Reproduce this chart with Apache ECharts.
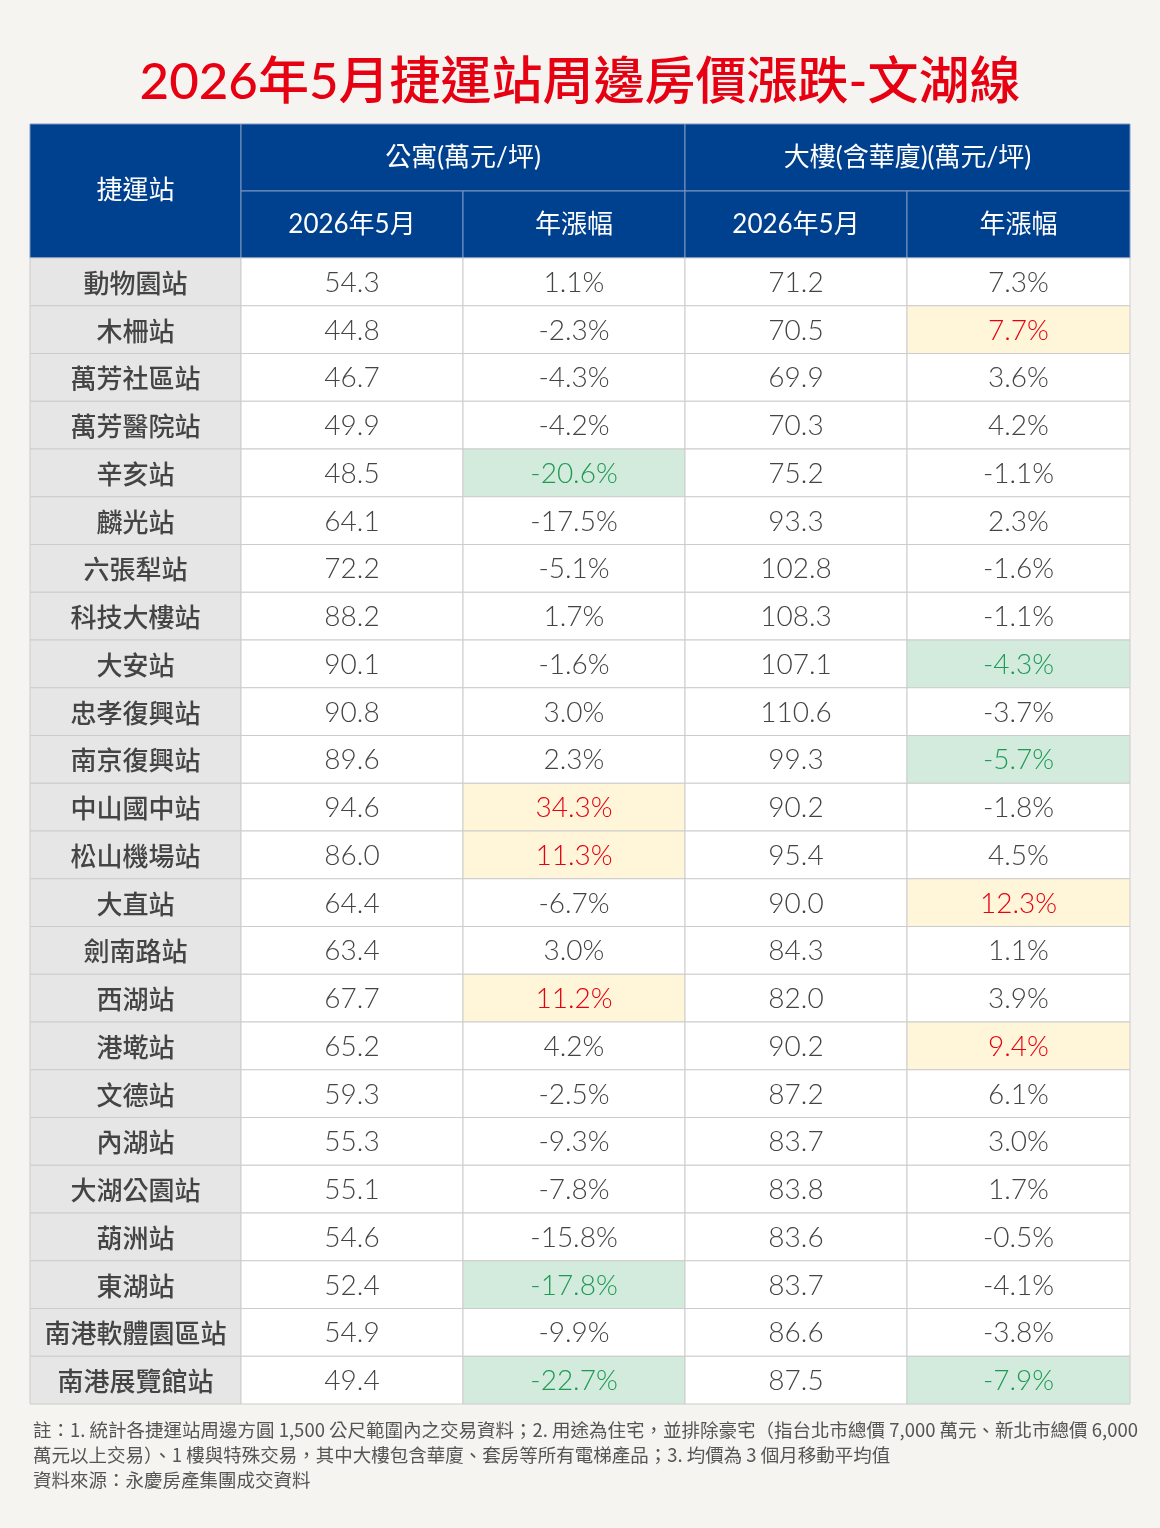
<!DOCTYPE html>
<html>
<head>
<meta charset="utf-8">
<title>2026年5月捷運站周邊房價漲跌-文湖線</title>
<script src="https://cdn.jsdelivr.net/npm/echarts@6/dist/echarts.min.js"></script>
<style>
  html, body { margin: 0; padding: 0; background: #f5f4f0; }
  #chart { width: 1160px; height: 1528px; }
</style>
</head>
<body>
<div id="chart"></div>
<script>
// 站名
var stations = ['動物園站', '木柵站', '萬芳社區站', '萬芳醫院站', '辛亥站', '麟光站', '六張犁站', '科技大樓站',
    '大安站', '忠孝復興站', '南京復興站', '中山國中站', '松山機場站', '大直站', '劍南路站', '西湖站',
    '港墘站', '文德站', '內湖站', '大湖公園站', '葫洲站', '東湖站', '南港軟體園區站', '南港展覽館站'];
// 公寓 單價(萬元/坪) / 年漲幅(%)
var aptPrice = [54.3, 44.8, 46.7, 49.9, 48.5, 64.1, 72.2, 88.2, 90.1, 90.8, 89.6, 94.6,
    86.0, 64.4, 63.4, 67.7, 65.2, 59.3, 55.3, 55.1, 54.6, 52.4, 54.9, 49.4];
var aptYoY = [1.1, -2.3, -4.3, -4.2, -20.6, -17.5, -5.1, 1.7, -1.6, 3.0, 2.3, 34.3,
    11.3, -6.7, 3.0, 11.2, 4.2, -2.5, -9.3, -7.8, -15.8, -17.8, -9.9, -22.7];
// 大樓(含華廈) 單價(萬元/坪) / 年漲幅(%)
var bldPrice = [71.2, 70.5, 69.9, 70.3, 75.2, 93.3, 102.8, 108.3, 107.1, 110.6, 99.3, 90.2,
    95.4, 90.0, 84.3, 82.0, 90.2, 87.2, 83.7, 83.8, 83.6, 83.7, 86.6, 87.5];
var bldYoY = [7.3, 7.7, 3.6, 4.2, -1.1, 2.3, -1.6, -1.1, -4.3, -3.7, -5.7, -1.8,
    4.5, 12.3, 1.1, 3.9, 9.4, 6.1, 3.0, 1.7, -0.5, -4.1, -3.8, -7.9];
// 表頭
var headTitle = '捷運站';
var groupLabels = ['公寓(萬元/坪)', '大樓(含華廈)(萬元/坪)'];
var subLabels = ['2026年5月', '年漲幅'];

var chartTitle = '2026年5月捷運站周邊房價漲跌-文湖線';
var notes = [
    '註：1. 統計各捷運站周邊方圓 1,500 公尺範圍內之交易資料；2. 用途為住宅，並排除豪宅（指台北市總價 7,000 萬元、新北市總價 6,000',
    '萬元以上交易）、1 樓與特殊交易，其中大樓包含華廈、套房等所有電梯產品；3. 均價為 3 個月移動平均值',
    '資料來源：永慶房產集團成交資料'
];

// 版面
var colWidths = [211, 222, 222, 222, 223];
var colEdges = [0];
for (var k = 0; k < colWidths.length; k++) {
    colEdges.push(colEdges[k] + colWidths[k]);
}
var tableW = colEdges[colEdges.length - 1];
var BLUE = '#00418f';
var NUM_FONT = 'Lato, "Noto Sans CJK TC", sans-serif';
var CJK_FONT = '"Noto Sans CJK TC", sans-serif';

// 前三高 / 前三低 標色
function rankTone(arr) {
    var sorted = arr.slice().sort(function(a, b) { return b - a; });
    var hi = sorted[2], lo = sorted[sorted.length - 3];
    return arr.map(function(v) {
        if (v >= hi) return 1;
        if (v <= lo) return 2;
        return 0;
    });
}
var aptTone = rankTone(aptYoY);
var bldTone = rankTone(bldYoY);

// 表頭儲存格 [起欄, 迄欄, 起列, 迄列]
var headCells = [
    { c0: 0, c1: 0, r0: 0, r1: 2, text: headTitle },
    { c0: 1, c1: 2, r0: 0, r1: 1, text: groupLabels[0] },
    { c0: 3, c1: 4, r0: 0, r1: 1, text: groupLabels[1] },
    { c0: 1, c1: 1, r0: 1, r1: 2, text: subLabels[0] },
    { c0: 2, c1: 2, r0: 1, r1: 2, text: subLabels[1] },
    { c0: 3, c1: 3, r0: 1, r1: 2, text: subLabels[0] },
    { c0: 4, c1: 4, r0: 1, r1: 2, text: subLabels[1] }
];

// 表身儲存格
var cells = [];
for (var i = 0; i < stations.length; i++) {
    cells.push({ c: 0, r: i, text: stations[i], tone: -1 });
    cells.push({ c: 1, r: i, text: aptPrice[i].toFixed(1), tone: 0 });
    cells.push({ c: 2, r: i, text: aptYoY[i].toFixed(1) + '%', tone: aptTone[i] });
    cells.push({ c: 3, r: i, text: bldPrice[i].toFixed(1), tone: 0 });
    cells.push({ c: 4, r: i, text: bldYoY[i].toFixed(1) + '%', tone: bldTone[i] });
}

function renderHead(params, api) {
    var d = headCells[params.dataIndex];
    var p0 = api.coord([colEdges[d.c0], d.r0]);
    var p1 = api.coord([colEdges[d.c1 + 1], d.r1]);
    return {
        type: 'group',
        children: [{
            type: 'rect',
            shape: { x: p0[0], y: p0[1], width: p1[0] - p0[0], height: p1[1] - p0[1] },
            style: { fill: BLUE, stroke: '#7f97c0', lineWidth: 1 }
        }, {
            type: 'text',
            style: {
                text: d.text,
                x: (p0[0] + p1[0]) / 2,
                y: (p0[1] + p1[1]) / 2,
                textAlign: 'center',
                textVerticalAlign: 'middle',
                fill: '#ffffff',
                font: '26px ' + NUM_FONT
            }
        }]
    };
}

function renderBody(params, api) {
    var d = cells[params.dataIndex];
    var left = api.coord([colEdges[d.c], d.r]);
    var right = api.coord([colEdges[d.c + 1], d.r]);
    var h = api.size([0, 1])[1];
    var fill = '#ffffff', color = '#444444', font = '300 28px ' + NUM_FONT;
    if (d.tone === -1) {
        fill = '#e6e6e6';
        font = '500 26px ' + CJK_FONT;
    } else if (d.tone === 1) {
        fill = '#fff5d9';
        color = '#e60012';
    } else if (d.tone === 2) {
        fill = '#d3ebdd';
        color = '#1f9a55';
    }
    return {
        type: 'group',
        children: [{
            type: 'rect',
            shape: { x: left[0], y: left[1] - h / 2, width: right[0] - left[0], height: h },
            style: { fill: fill, stroke: '#cccccc', lineWidth: 1 }
        }, {
            type: 'text',
            style: {
                text: d.text,
                x: (left[0] + right[0]) / 2,
                y: left[1] + 1,
                textAlign: 'center',
                textVerticalAlign: 'middle',
                fill: color,
                font: font
            }
        }]
    };
}

var myChart = echarts.init(document.getElementById('chart'));
var option = {
    backgroundColor: '#f5f4f0',
    animation: false,
    grid: [
        { left: 30, top: 124, width: tableW, height: 134 },
        { left: 30, top: 258, width: tableW, height: 1146 }
    ],
    xAxis: [
        { type: 'value', gridIndex: 0, min: 0, max: tableW, show: false },
        { type: 'value', gridIndex: 1, min: 0, max: tableW, show: false }
    ],
    yAxis: [
        { type: 'value', gridIndex: 0, min: 0, max: 2, inverse: true, show: false },
        { type: 'category', gridIndex: 1, data: stations, inverse: true, show: false }
    ],
    graphic: [{
        type: 'text',
        left: 'center',
        top: 57,
        style: {
            text: chartTitle,
            fill: '#e60012',
            font: '500 51px ' + NUM_FONT
        }
    }].concat(notes.map(function(line, idx) {
        return {
            type: 'text',
            left: 33,
            top: 1421 + idx * 25,
            style: { text: line, fill: '#555555', font: '18.5px ' + CJK_FONT }
        };
    })),
    series: [{
        type: 'custom',
        xAxisIndex: 0,
        yAxisIndex: 0,
        clip: false,
        renderItem: renderHead,
        data: headCells.map(function(d) { return [d.c0, d.r0]; })
    }, {
        type: 'custom',
        xAxisIndex: 1,
        yAxisIndex: 1,
        clip: false,
        renderItem: renderBody,
        data: cells.map(function(d) { return [d.c, d.r]; })
    }]
};
myChart.setOption(option, true);
</script>
</body>
</html>
